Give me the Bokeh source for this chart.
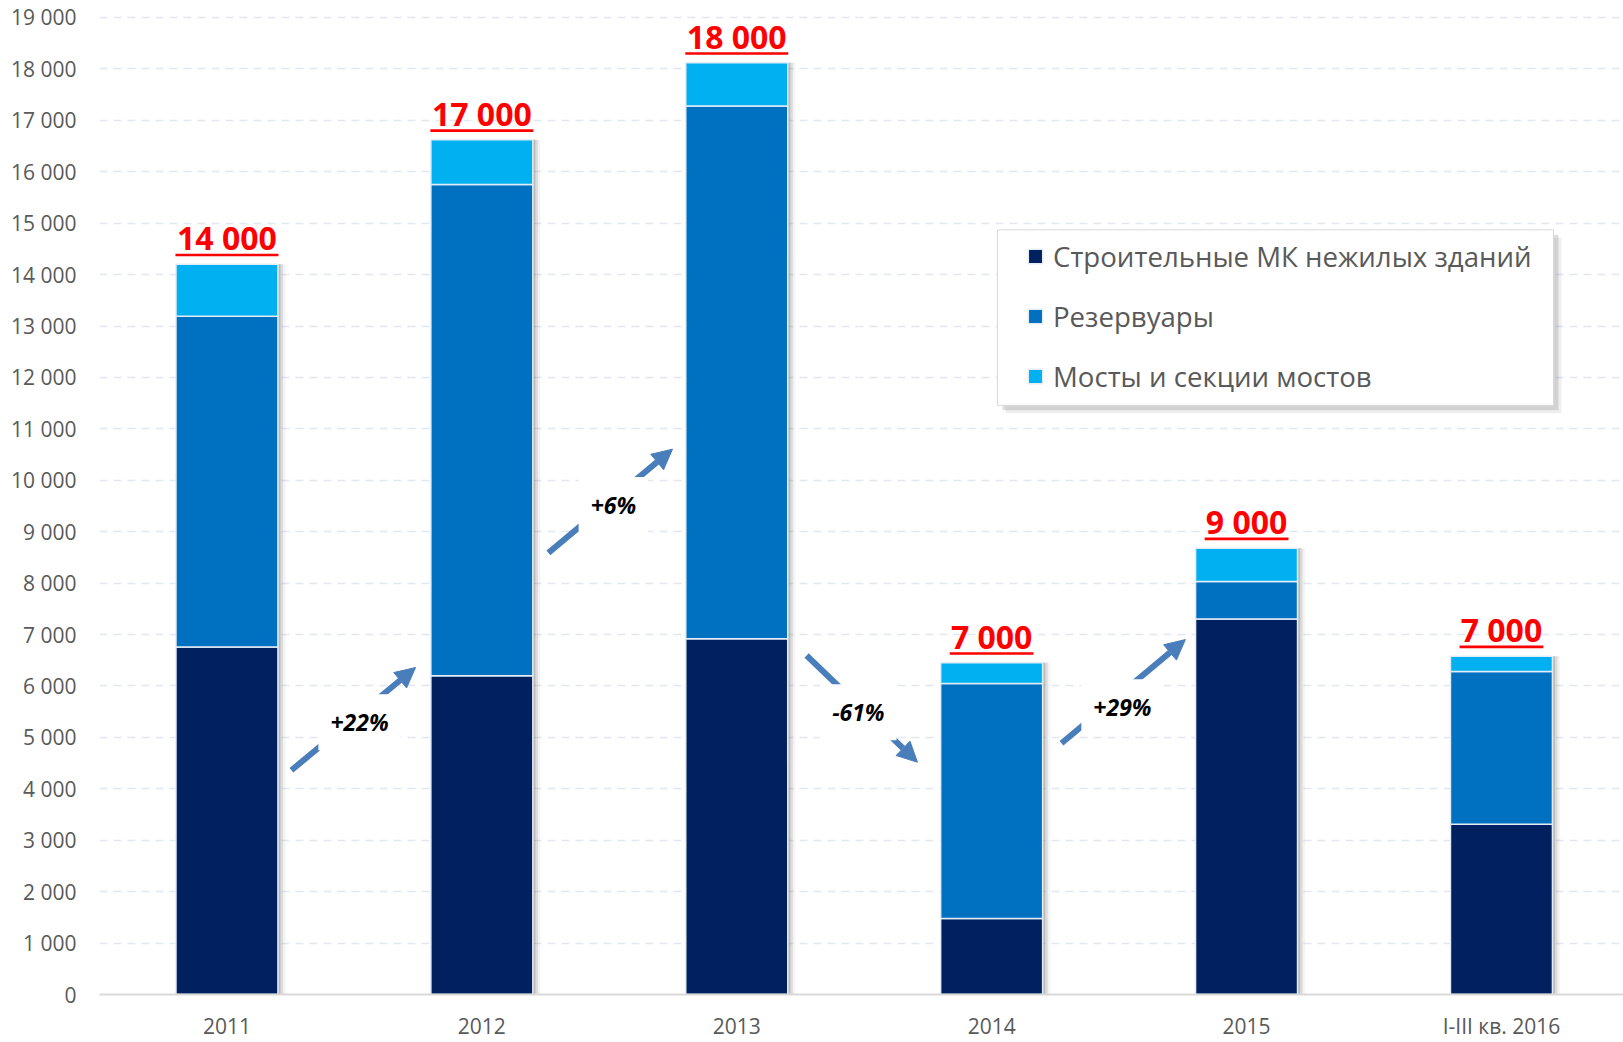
from bokeh.plotting import figure
from bokeh.models import (ColumnDataSource, Range1d, FixedTicker, Arrow, NormalHead,
                          Legend, LegendItem)
from bokeh.transform import dodge
from bokeh.core.properties import value
from bokeh.embed import file_html
from bokeh.resources import INLINE

# ---------------- data ----------------
categories = ["2011", "2012", "2013", "2014", "2015", "I-III кв. 2016"]
series_names = ["Строительные МК нежилых зданий", "Резервуары", "Мосты и секции мостов"]
buildings = [6760, 6200, 6920, 1480, 7300, 3310]
tanks = [6430, 9550, 10360, 4570, 730, 2970]
bridges = [1010, 870, 840, 400, 650, 300]
total_labels = ["14 000", "17 000", "18 000", "7 000", "9 000", "7 000"]
y_ticks = list(range(0, 19001, 1000))

change_labels = ["+22%", "+6%", "-61%", "+29%"]
change_x = [0.520, 1.516, 2.477, 3.513]
change_y = [5293, 9519, 5487, 5584]
arrow_x0 = [0.253, 1.261, 2.274, 3.274]
arrow_y0 = [4362, 8589, 6592, 4886]
arrow_x1 = [0.740, 1.748, 2.709, 3.760]
arrow_y1 = [6359, 10605, 4517, 6902]

# ---------------- styling / geometry ----------------
colors = ["#002060", "#0070c0", "#00b0f0"]
FONT = value("Open Sans")
GRAY = "#595959"
W, H = 1623, 1042
B_LEFT, B_TOP, B_BOTTOM = 99, 14, 45
FRAME_W, FRAME_H = W - B_LEFT, H - B_TOP - B_BOTTOM
PX_PER_CAT = 254.9
PX_PER_1000 = 51.58

xs = list(range(len(categories)))
tops = [a + b + c for a, b, c in zip(buildings, tanks, bridges)]
px = 1000 / PX_PER_1000  # data units per screen pixel (y)
src = ColumnDataSource(dict(x=xs, b=buildings, t=tanks, m=bridges, top=tops,
                            lab=total_labels,
                            lab_y=[t + 26.5 * px for t in tops],
                            ul_y=[t + 9.3 * px for t in tops],
                            ul_w=[19.2 * sum(ch.isdigit() for ch in s) + 7 for s in total_labels]))

p = figure(width=W, height=H,
           x_range=Range1d(-0.5, -0.5 + FRAME_W / PX_PER_CAT),
           y_range=Range1d(0, FRAME_H / PX_PER_1000 * 1000),
           min_border_left=B_LEFT, min_border_right=0, min_border_top=B_TOP,
           min_border_bottom=B_BOTTOM,
           toolbar_location=None, output_backend="svg", background_fill_color="white",
           border_fill_color="white")
p.outline_line_color = None

# grid
p.xgrid.visible = False
p.ygrid.grid_line_color = "#e2e8f1"
p.ygrid.grid_line_dash = "8 6"
p.ygrid.grid_line_width = 1.5

# axes
p.yaxis.ticker = FixedTicker(ticks=y_ticks)
p.yaxis.major_label_overrides = {v: f"{v:,}".replace(",", " ") for v in y_ticks}
p.yaxis.axis_line_color = None
p.yaxis.major_tick_line_color = None
p.yaxis.minor_tick_line_color = None
p.yaxis.major_tick_in = 0
p.yaxis.major_tick_out = 0
p.yaxis.major_label_standoff = 23
p.yaxis.major_label_text_font = "Open Sans"
p.yaxis.major_label_text_font_size = "21px"
p.yaxis.major_label_text_color = GRAY

p.xaxis.ticker = FixedTicker(ticks=xs)
p.xaxis.major_label_overrides = {i: c for i, c in zip(xs, categories)}
p.xaxis.axis_line_color = "#d9d9d9"
p.xaxis.axis_line_width = 2
p.xaxis.major_tick_line_color = None
p.xaxis.minor_tick_line_color = None
p.xaxis.major_tick_in = 0
p.xaxis.major_tick_out = 0
p.xaxis.major_label_standoff = 17
p.xaxis.major_label_text_font = "Open Sans"
p.xaxis.major_label_text_font_size = "21px"
p.xaxis.major_label_text_color = GRAY

# bar shadows
for off, a in [(0.010, 0.30), (0.020, 0.18), (0.030, 0.08)]:
    p.vbar(x=dodge("x", off, range=p.x_range), top="top", bottom=0, width=0.4,
           source=src, fill_color="#6f6f6f", fill_alpha=a, line_color=None)

# stacked bars
rs = p.vbar_stack(["b", "t", "m"], x="x", width=0.4, source=src, fill_color=colors,
                  line_color="#e4edf7", line_width=1.5)

# legend box (with shadow)
bx0 = (997 - 226.45) / PX_PER_CAT
bx1 = (1553 - 226.45) / PX_PER_CAT
by1 = 14870
by0 = 11458
dxs, dys = 5 / PX_PER_CAT, 5 * px
for k, a in [(1.0, 0.25), (1.6, 0.12)]:
    p.quad(left=bx0 + dxs * k, right=bx1 + dxs * k, top=by1 - dys * k, bottom=by0 - dys * k,
           fill_color="#7f7f7f", fill_alpha=a, line_color=None)
p.quad(left=bx0, right=bx1, top=by1, bottom=by0, fill_color="white",
       line_color="#d9d9d9", line_width=1)

legend = Legend(items=[LegendItem(label=n, renderers=[r]) for n, r in zip(series_names, rs)],
                location=(927, 599), padding=0, margin=0, spacing=22, label_height=36,
                glyph_width=18, glyph_height=18, label_standoff=9,
                background_fill_alpha=0, border_line_alpha=0,
                label_text_font="Open Sans", label_text_font_size="27.6px",
                label_text_color=GRAY)
p.add_layout(legend)

# total labels with underline
p.text(x="x", y="lab_y", text="lab", source=src, text_align="center",
       text_baseline="middle", text_font=FONT, text_font_size="32px",
       text_font_style="bold", text_color="#ff0000")
p.rect(x="x", y="ul_y", width="ul_w", height=2.6, width_units="screen",
       height_units="screen", source=src, fill_color="#ff0000", line_color=None)

# change arrows
asrc = ColumnDataSource(dict(x0=arrow_x0, y0=arrow_y0, x1=arrow_x1, y1=arrow_y1))
p.add_layout(Arrow(x_start="x0", y_start="y0", x_end="x1", y_end="y1", source=asrc,
                   line_color="#4a7ebb", line_width=6,
                   end=NormalHead(size=20, fill_color="#4a7ebb", line_color="#4a7ebb")))

csrc = ColumnDataSource(dict(x=change_x, y=change_y, t=change_labels))
tr = p.text(x="x", y="y", text="t", source=csrc, text_align="center",
            text_baseline="middle", text_font=FONT, text_font_size="23px",
            text_font_style="bold italic", text_color="black",
            background_fill_color="white", padding=12)
tr.level = "overlay"

open("out.html", "w").write(file_html(p, INLINE))
